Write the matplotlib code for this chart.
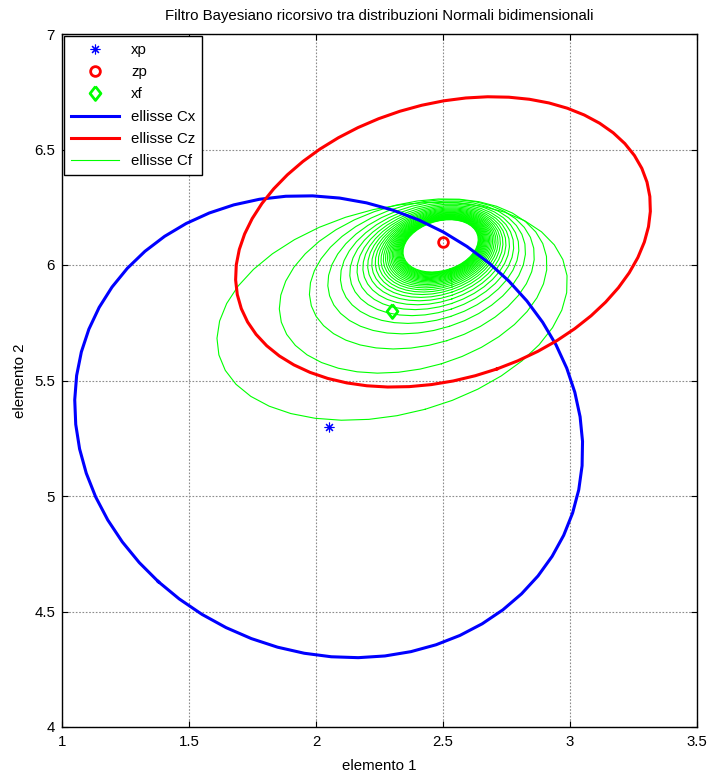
import numpy as np
import matplotlib
matplotlib.use('Agg')
import matplotlib.pyplot as plt
from matplotlib.lines import Line2D

# ---- data ----
xp = [2.05, 5.30]          # predicted state
zp = [2.50, 6.10]          # measurement
xf = [2.30, 5.80]          # first filtered estimate
Cx = [[1.000, -0.100], [-0.100, 1.000]]
Cz = [[0.667, 0.123], [0.123, 0.395]]
Cf = [[0.476, 0.085], [0.085, 0.223]]
n_iter = 30

x_ticks = [1, 1.5, 2, 2.5, 3, 3.5]
y_ticks = [4, 4.5, 5, 5.5, 6, 6.5, 7]
legend_labels = ['xp', 'zp', 'xf', 'ellisse Cx', 'ellisse Cz', 'ellisse Cf']
title = 'Filtro Bayesiano ricorsivo tra distribuzioni Normali bidimensionali'

plt.rcParams['font.family'] = ['Liberation Sans', 'DejaVu Sans']
FS = 10.8


def ellipse(center, C, npts=60):
    C = np.asarray(C, dtype=float)
    vals, vecs = np.linalg.eigh(C)
    t = np.linspace(0, 2 * np.pi, npts)
    circ = np.vstack([np.cos(t), np.sin(t)])
    pts = vecs @ (np.sqrt(vals)[:, None] * circ)
    return center[0] + pts[0], center[1] + pts[1]


fig = plt.figure(figsize=(7.11, 7.76), dpi=100)
ax = fig.add_axes([62 / 711, 49 / 776, 635 / 711, 693 / 776])

BLUE, RED, GREEN = '#0000ff', '#ff0000', '#00ff00'
DIAMOND = [(0, 1), (0.78, 0), (0, -1), (-0.78, 0), (0, 1)]
STAR = (8, 2, 0)

# recursive Bayesian filter ellipses
P = np.asarray(Cf, float)
m = np.asarray(xf, float)
Rinv = np.linalg.inv(np.asarray(Cz, float))
z = np.asarray(zp, float)
for i in range(n_iter):
    ex, ey = ellipse(m, P, 40)
    ax.plot(ex, ey, color=GREEN, lw=0.8, zorder=1)
    Pinv = np.linalg.inv(P)
    Pn = np.linalg.inv(Pinv + Rinv)
    m = Pn @ (Pinv @ m + Rinv @ z)
    P = Pn

ex, ey = ellipse(xp, Cx, 60)
ax.plot(ex, ey, color=BLUE, lw=2.2, zorder=2)
ex, ey = ellipse(zp, Cz, 60)
ax.plot(ex, ey, color=RED, lw=2.2, zorder=3)

ax.plot([xp[0]], [xp[1]], ls='none', marker=STAR, ms=7, mew=0.8,
        color=BLUE, zorder=4)
ax.plot([zp[0]], [zp[1]], ls='none', marker='o', ms=7, mew=2,
        mfc='none', mec=RED, zorder=4)
ax.plot([xf[0]], [xf[1]], ls='none', marker=DIAMOND, ms=10, mew=2,
        mfc='none', mec=GREEN, zorder=4)

ax.set_xlim(x_ticks[0], x_ticks[-1])
ax.set_ylim(y_ticks[0], y_ticks[-1])
ax.set_xticks(x_ticks)
ax.set_yticks(y_ticks)
ax.set_xticklabels([f'{v:g}' for v in x_ticks])
ax.set_yticklabels([f'{v:g}' for v in y_ticks])
ax.tick_params(direction='in', length=4, width=0.8, top=True, right=True,
               labelsize=FS, colors='black')
ax.tick_params(axis='x', pad=6)
ax.tick_params(axis='y', pad=5)
ax.grid(True, color='#8c8c8c', lw=0.8, ls=(0, (1.5, 1.5)))
ax.set_axisbelow(True)
for s in ax.spines.values():
    s.set_linewidth(1.0)
    s.set_color('black')

ax.set_title(title, fontsize=FS, pad=10)
ax.set_xlabel('elemento 1', fontsize=FS, labelpad=7)
ax.set_ylabel('elemento 2', fontsize=FS, labelpad=5)

handles = [
    Line2D([], [], ls='none', marker=STAR, ms=7, mew=0.8, color=BLUE),
    Line2D([], [], ls='none', marker='o', ms=7, mew=2, mfc='none', mec=RED),
    Line2D([], [], ls='none', marker=DIAMOND, ms=10, mew=2, mfc='none', mec=GREEN),
    Line2D([], [], color=BLUE, lw=2.2),
    Line2D([], [], color=RED, lw=2.2),
    Line2D([], [], color=GREEN, lw=0.8),
]
leg = ax.legend(handles, legend_labels, loc='upper left', fontsize=FS,
                frameon=True, fancybox=False, framealpha=1, edgecolor='black',
                handlelength=3.2, labelspacing=0.55, borderaxespad=0.15,
                handletextpad=0.8, borderpad=0.45)
leg.get_frame().set_linewidth(1.0)

fig.savefig('out.png', dpi=100)
